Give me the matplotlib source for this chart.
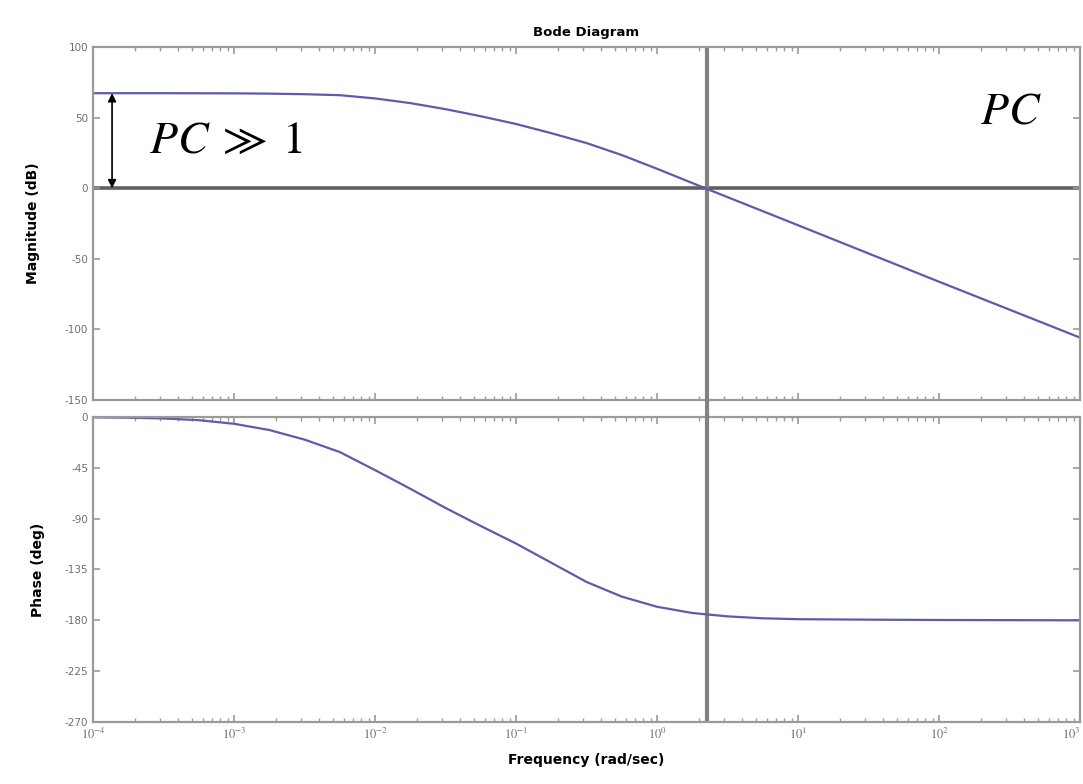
import matplotlib
matplotlib.use("agg")
import matplotlib.pyplot as plt
from matplotlib.patches import ConnectionPatch
import numpy as np

# values (log10 of rad/sec)
mag_logw = [-4.0, -3.5, -3.0, -2.75, -2.5, -2.25, -2.0, -1.75, -1.5, -1.25, -1.0,
            -0.75, -0.5, -0.25, 0.0, 0.25, 0.5, 1.0, 1.5, 2.0, 2.5, 3.0]
mag_db = [67.3, 67.3, 67.2, 67.0, 66.6, 65.9, 63.6, 60.3, 56.0, 51.0, 45.5,
          39.0, 32.0, 23.5, 13.8, 3.7, -6.3, -26.2, -46.2, -66.2, -86.0, -105.8]

ph_logw = [-4.0, -3.75, -3.5, -3.25, -3.0, -2.75, -2.5, -2.25, -2.0, -1.75, -1.5,
           -1.25, -1.0, -0.75, -0.5, -0.25, 0.0, 0.25, 0.5, 0.75, 1.0, 1.5, 2.0, 3.0]
ph_deg = [-0.3, -0.6, -1.3, -2.8, -6.0, -11.5, -20.0, -31.0, -47.0, -63.5, -80.5,
          -96.5, -112.0, -129.0, -146.0, -159.0, -168.0, -173.5, -176.5, -178.2,
          -179.0, -179.4, -179.7, -180.0]

w_cross = 10 ** 0.355
w_arrow = 10 ** -3.865
k_db = 67.3

mag_ticks = [100, 50, 0, -50, -100, -150]
ph_ticks = [0, -45, -90, -135, -180, -225, -270]
x_decades = list(range(-4, 4))

line_col = "#5c5ca8"
frame_col = "#9a9a9a"
tick_col = "#6e6e6e"

plt.rcParams["mathtext.fontset"] = "stix"

fig = plt.figure(figsize=(10.83, 7.84), dpi=100)
ax1 = fig.add_axes([0.0859, 0.4898, 0.9113, 0.4502])
ax2 = fig.add_axes([0.0859, 0.0791, 0.9113, 0.3890])

for ax in (ax1, ax2):
    ax.set_xscale("log")
    ax.set_xlim(10.0 ** x_decades[0], 10.0 ** x_decades[-1])
    ax.tick_params(which="both", direction="in", top=True, right=True,
                   colors=frame_col, labelcolor=tick_col, labelsize=7.5)
    ax.tick_params(which="major", length=5, width=1.2)
    ax.tick_params(which="minor", length=3, width=1.0)
    for s in ax.spines.values():
        s.set_color(frame_col)
        s.set_linewidth(1.6)
    ax.set_xticks([10.0 ** d for d in x_decades])

ax1.set_xticklabels([])
ax2.set_xticklabels([r"$10^{%d}$" % d for d in x_decades], fontsize=9)
# last decade label sits on the right edge; pull it inside
ax2.get_xticklabels()[-1].set_horizontalalignment("right")

ax1.plot(10 ** np.array(mag_logw), mag_db, color=line_col, lw=1.6)
ax1.set_ylim(-150, 100)
ax1.set_yticks(mag_ticks)
ax1.set_yticklabels([str(t) for t in mag_ticks])
ax1.axhline(0, color="#606060", lw=2.6, zorder=1)
ax1.axvline(w_cross, color="#828282", lw=3, zorder=1)
ax1.annotate("", xy=(w_arrow, k_db), xytext=(w_arrow, 0),
             arrowprops=dict(arrowstyle="<|-|>", color="black", lw=1.2,
                             mutation_scale=12, shrinkA=0, shrinkB=0))
ax1.text(10 ** -3.6, 34, r"$PC \;\gg\; 1$", fontsize=33, va="center", ha="left")
ax1.text(10 ** 2.73, 55, r"$PC$", fontsize=33, va="center", ha="right")

ax2.plot(10 ** np.array(ph_logw), ph_deg, color=line_col, lw=1.6)
ax2.set_ylim(-270, 0)
ax2.set_yticks(ph_ticks)
ax2.set_yticklabels([str(t) for t in ph_ticks])
ax2.axvline(w_cross, color="#828282", lw=3, zorder=1)

# keep the vertical marker running through the gap between the panels
con = ConnectionPatch(xyA=(w_cross, -150), coordsA=ax1.transData,
                      xyB=(w_cross, 0), coordsB=ax2.transData,
                      color="#828282", lw=3)
fig.add_artist(con)

ax1.set_title("Bode Diagram", fontsize=9.5, fontweight="bold", pad=8)
ax1.set_ylabel("Magnitude (dB)", fontsize=10, fontweight="bold", labelpad=18)
ax2.set_ylabel("Phase (deg)", fontsize=10, fontweight="bold", labelpad=14)
ax2.set_xlabel("Frequency (rad/sec)", fontsize=10, fontweight="bold", labelpad=8)

plt.savefig("out.png", dpi=100)
